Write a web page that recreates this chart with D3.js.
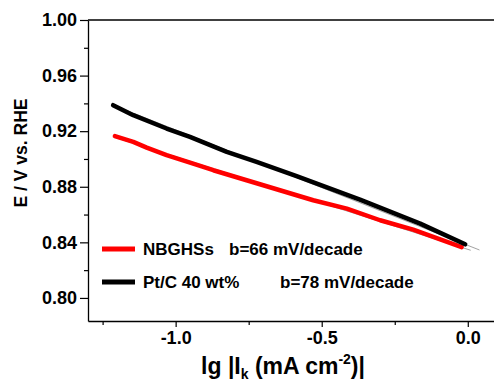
<!DOCTYPE html>
<html>
<head>
<meta charset="utf-8">
<script src="https://cdn.jsdelivr.net/npm/d3@7"></script>
<style>
  body { margin: 0; background: #fff; }
  svg { display: block; font-family: "Liberation Sans", Arial, sans-serif; font-weight: bold; }
</style>
</head>
<body>
<div id="chart"></div>
<script>
// data
var black_x = [-1.214, -1.145, -1.031, -0.951, -0.825, -0.723, -0.586, -0.369, -0.163, -0.009];
var black_y = [0.9387, 0.9315, 0.9219, 0.9159, 0.9051, 0.8979, 0.8876, 0.8708, 0.8535, 0.8386];
var red_x = [-1.208, -1.145, -1.099, -1.031, -0.940, -0.871, -0.757, -0.643, -0.529, -0.414, -0.300, -0.187, -0.021];
var red_y = [0.9164, 0.9123, 0.9082, 0.9027, 0.8967, 0.8919, 0.8847, 0.8775, 0.8703, 0.8643, 0.8559, 0.8492, 0.8366];
// linear fits (thin grey)
var black_fit_x = [-1.214, 0.040];
var black_fit_y = [0.9387, 0.8345];
var red_fit_x = [-1.208, 0.010];
var red_fit_y = [0.9155, 0.8343];

var y_ticks = [0.80, 0.84, 0.88, 0.92, 0.96, 1.00];
var y_minor = [0.78, 0.82, 0.86, 0.90, 0.94, 0.98];
var x_ticks = [-1.0, -0.5, 0.0];
var x_minor = [-1.25, -0.75, -0.25];

var legend_names = ["NBGHSs", "Pt/C 40 wt%"];
var legend_slopes = ["b=66 mV/decade", "b=78 mV/decade"];

var W = 494, H = 381;
var left = 88, top_y = 20, bottom_y = 321, right = 497;

var svg = d3.select("#chart").append("svg")
    .attr("width", W)
    .attr("height", H);

var x = d3.scaleLinear().domain([-1.3, 0.1]).range([left, right]);
var y = d3.scaleLinear().domain([0.7834, 1.00]).range([bottom_y, top_y]);

// plain hyphen minus like the original
var fmt = function(p) {
  return function(d) { return d.toFixed(p); };
};

// frame (top + bottom + left)
svg.append("line").attr("x1", left).attr("x2", W).attr("y1", top_y).attr("y2", top_y)
    .attr("stroke", "#000").attr("stroke-width", 1.3);

var y_axis = svg.append("g")
    .attr("transform", "translate(" + left + ",0)")
    .call(d3.axisLeft(y).tickValues(y_ticks).tickFormat(fmt(2)).tickSize(8).tickSizeOuter(0));
y_axis.selectAll(".tick text").attr("font-size", 18).attr("font-weight", "bold").attr("x", -11)
    .attr("font-family", "Liberation Sans, Arial, sans-serif");

var y_axis_minor = svg.append("g")
    .attr("transform", "translate(" + left + ",0)")
    .call(d3.axisLeft(y).tickValues(y_minor.filter(function(d) { return y(d) >= top_y && y(d) <= bottom_y; })).tickFormat("").tickSize(4).tickSizeOuter(0));

var x_axis = svg.append("g")
    .attr("transform", "translate(0," + bottom_y + ")")
    .call(d3.axisBottom(x).tickValues(x_ticks).tickFormat(fmt(1)).tickSize(6).tickSizeOuter(0));
x_axis.selectAll(".tick text").attr("font-size", 18).attr("font-weight", "bold").attr("y", 10)
    .attr("font-family", "Liberation Sans, Arial, sans-serif");

var x_axis_minor = svg.append("g")
    .attr("transform", "translate(0," + bottom_y + ")")
    .call(d3.axisBottom(x).tickValues(x_minor).tickFormat("").tickSize(4).tickSizeOuter(0));

svg.selectAll(".domain").attr("stroke-width", 1.3);
svg.selectAll(".tick line").attr("stroke-width", 1.2);
x_axis_minor.select(".domain").remove();
y_axis_minor.select(".domain").remove();

// data lines
var line = d3.line().x(function(d) { return x(d[0]); }).y(function(d) { return y(d[1]); });

var series = [
  { xs: red_x, ys: red_y, color: "#ff0000", fx: red_fit_x, fy: red_fit_y },
  { xs: black_x, ys: black_y, color: "#000000", fx: black_fit_x, fy: black_fit_y }
];

// fits under the curves
series.forEach(function(s) {
  svg.append("path")
      .datum(d3.zip(s.fx, s.fy))
      .attr("d", line)
      .attr("fill", "none")
      .attr("stroke", "#8a8a8a")
      .attr("stroke-width", 0.8);
});

series.forEach(function(s) {
  svg.append("path")
      .datum(d3.zip(s.xs, s.ys))
      .attr("d", line)
      .attr("fill", "none")
      .attr("stroke", s.color)
      .attr("stroke-width", 4.5)
      .attr("stroke-linejoin", "round")
      .attr("stroke-linecap", "round");
});

// legend
var legend_colors = ["#ff0000", "#000000"];
var legend_rows = [249, 282];
var slope_x = [229, 280];
for (var i = 0; i < legend_names.length; i++) {
  svg.append("line")
      .attr("x1", 102).attr("x2", 135)
      .attr("y1", legend_rows[i]).attr("y2", legend_rows[i])
      .attr("stroke", legend_colors[i]).attr("stroke-width", 5);
  svg.append("text")
      .attr("x", 143).attr("y", legend_rows[i] + 6)
      .attr("font-size", 17)
      .text(legend_names[i]);
  svg.append("text")
      .attr("x", slope_x[i]).attr("y", legend_rows[i] + 6)
      .attr("font-size", 17)
      .text(legend_slopes[i]);
}

// axis titles
svg.append("text")
    .attr("transform", "translate(27,153) rotate(-90)")
    .attr("text-anchor", "middle")
    .attr("font-size", 17.5)
    .text("E / V vs. RHE");

var xt = svg.append("text")
    .attr("x", 283).attr("y", 374)
    .attr("text-anchor", "middle")
    .attr("font-size", 23);
xt.append("tspan").text("lg |I");
xt.append("tspan").attr("font-size", 14).attr("dy", 5).text("k");
xt.append("tspan").attr("dy", -5).text(" (mA cm");
xt.append("tspan").attr("font-size", 14).attr("dy", -10).text("-2");
xt.append("tspan").attr("dy", 10).text(")|");
</script>
</body>
</html>
